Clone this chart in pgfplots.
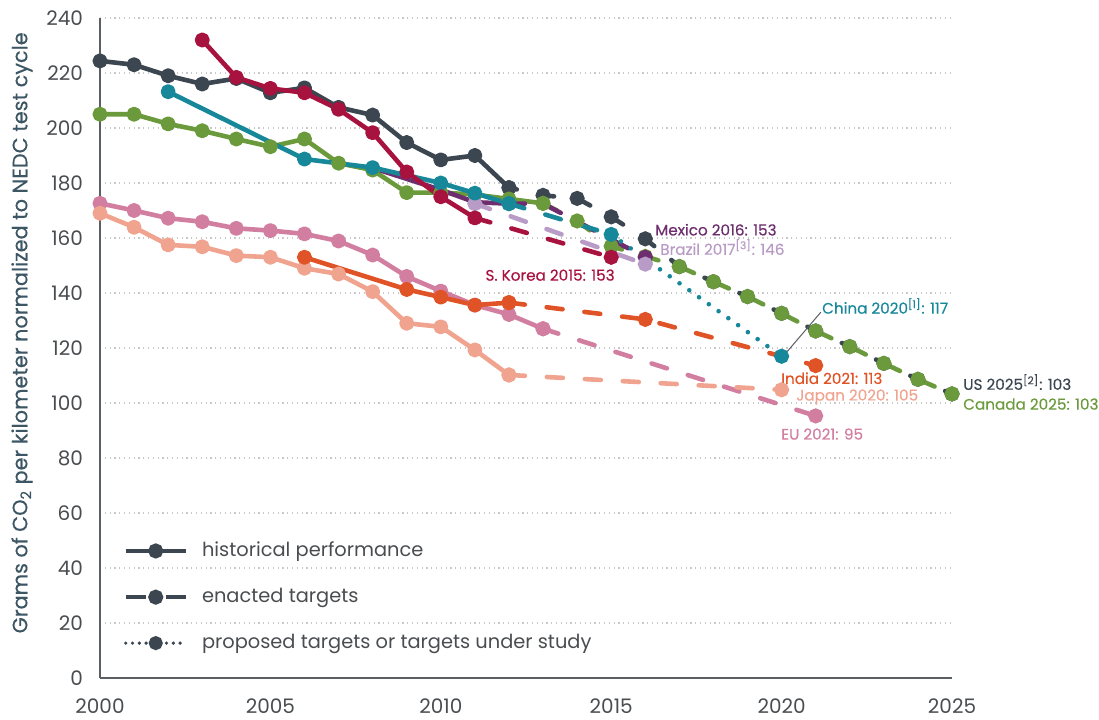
\documentclass[border=0pt]{standalone}
\usepackage{fontspec}
\setmainfont{Poppins}
\newfontfamily\labelfont{Poppins}[FakeBold=0.35]
\usepackage{pgfplots}
\pgfplotsset{compat=1.18}

\definecolor{usgray}{HTML}{3B4650}
\definecolor{canada}{HTML}{6B9A3C}
\definecolor{korea}{HTML}{A8123F}
\definecolor{china}{HTML}{17879A}
\definecolor{mexico}{HTML}{6D2D6E}
\definecolor{brazil}{HTML}{B89BC6}
\definecolor{eu}{HTML}{D27EA0}
\definecolor{japan}{HTML}{F0A38F}
\definecolor{india}{HTML}{E05327}
\definecolor{axisgray}{HTML}{5A5F64}
\definecolor{gridgray}{HTML}{C8C8C8}
\definecolor{tickgray}{HTML}{4A4D50}
\definecolor{ylabcol}{HTML}{3D5664}

\begin{document}
\begin{tikzpicture}
\begin{axis}[
    name=ax,
    scale only axis,
    width=426pt, height=330pt,
    xmin=2000, xmax=2025, ymin=0, ymax=240,
    xtick={2000,2005,...,2025},
    ytick={0,20,...,240},
    /pgf/number format/1000 sep={},
    /pgf/number format/assume math mode=true,
    major tick length=0pt,
    axis lines*=left,
    axis line style={draw=axisgray, line width=0.7pt, -},
    ymajorgrids,
    grid style={draw=gridgray, line width=0.6pt, dash pattern=on 0.6pt off 1.8pt},
    tick label style={text=tickgray, font=\fontsize{10}{11}\selectfont},
    yticklabel style={xshift=-5pt},
    xticklabel style={yshift=-7pt},
    clip=false,
    ylabel={Grams of CO\textsubscript{2} per kilometer normalized to NEDC test cycle},
    every axis y label/.style={at={(axis description cs:-0.0915,0.523)}, rotate=90, anchor=center,
        font=\labelfont\fontsize{10.4}{12}\selectfont, text=ylabcol},
    hist/.style={line width=2.3pt, mark=*, mark size=2.6pt, line join=round},
    target/.style={line width=2.3pt, mark=*, mark size=2.6pt, line cap=round,
        dash pattern=on 8pt off 11pt, mark options={solid}},
    proposed/.style={line width=2.3pt, mark=*, mark size=2.6pt, line cap=round,
        dash pattern=on 0pt off 6pt, mark options={solid}},
    legend image code/.code={\draw[mark repeat=2,mark phase=2,#1] plot coordinates {(0pt,0pt) (15pt,0pt) (30pt,0pt)};},
    legend style={draw=none, fill=none, at={(axis description cs:0.02,0.027)}, anchor=south west,
        font=\fontsize{9.7}{11}\selectfont, text=tickgray, row sep=10.3pt,
        /tikz/every odd column/.append style={column sep=5pt}},
    legend cell align=left,
]
\addlegendimage{usgray, line width=2.3pt, mark=*, mark size=2.6pt}
\addlegendentry{historical performance}
\addlegendimage{usgray, line width=2.3pt, mark=*, mark size=2.6pt, dash pattern=on 10pt off 10pt, mark options={solid}}
\addlegendentry{enacted targets}
\addlegendimage{usgray, line width=1.8pt, mark=*, mark size=2.6pt, line cap=round, dash pattern=on 0pt off 3.4pt, mark options={solid}}
\addlegendentry{proposed targets or targets under study}

% US
\addplot[usgray, target, dash phase=4pt] coordinates {(2012,178.3) (2013,175.5) (2014,174.4) (2015,167.7) (2016,159.7) (2017,149.6) (2018,144.1) (2019,138.7) (2020,132.6) (2021,126.2) (2022,120.5) (2023,114.4) (2024,108.6) (2025,103.3)};
\addplot[usgray, hist] coordinates {(2000,224.4) (2001,223) (2002,219) (2003,216) (2004,218) (2005,212.8) (2006,214.6) (2007,207.5) (2008,204.7) (2009,194.7) (2010,188.4) (2011,190) (2012,178.3)};
% Canada
\addplot[canada, target] coordinates {(2013,172.6) (2014,166.2) (2015,157) (2016,153.3) (2017,149.6) (2018,144.1) (2019,138.7) (2020,132.6) (2021,126.2) (2022,120.5) (2023,114.4) (2024,108.6) (2025,103.3)};
\addplot[canada, hist] coordinates {(2000,205) (2001,205) (2002,201.5) (2003,199) (2004,196) (2005,193.2) (2006,196) (2007,187.2) (2008,184.7) (2009,176.5) (2010,176.5) (2011,175.8) (2012,174.2) (2013,172.6)};
% Mexico
\addplot[mexico, target, mark indices={3}] coordinates {(2012,172.5) (2013,172.5) (2016,153)};
\addplot[mexico, hist, mark=none] coordinates {(2008,185.5) (2009,181.5) (2010,177.5) (2011,173) (2012,172.5)};
% Brazil
\addplot[brazil, target] coordinates {(2011,172.5) (2016,150.5)};
% China
\addplot[china, proposed, mark indices={2}] coordinates {(2015,161.3) (2020,117)};
\addplot[china, target] coordinates {(2012,172.5) (2015,161.3)};
\addplot[china, hist] coordinates {(2002,213.2) (2006,188.7) (2008,185.6) (2010,180) (2011,176.3) (2012,172.5)};
% S. Korea
\addplot[korea, target, mark indices={2}] coordinates {(2011,167.3) (2015,153)};
\addplot[korea, hist] coordinates {(2003,232) (2004,218.4) (2005,214.4) (2006,212.8) (2007,206.8) (2008,198.3) (2009,184) (2010,175) (2011,167.3)};
% EU
\addplot[eu, target] coordinates {(2013,127) (2021,95.3)};
\addplot[eu, hist] coordinates {(2000,172.6) (2001,170) (2002,167.2) (2003,165.9) (2004,163.5) (2005,162.7) (2006,161.5) (2007,158.9) (2008,153.8) (2009,146) (2010,140.7) (2011,135.6) (2012,132.2) (2013,127)};
% Japan
\addplot[japan, target] coordinates {(2012,110.2) (2020,104.8)};
\addplot[japan, hist] coordinates {(2000,169) (2001,163.9) (2002,157.5) (2003,156.8) (2004,153.6) (2005,153) (2006,149) (2007,146.9) (2008,140.5) (2009,129) (2010,127.7) (2011,119.3) (2012,110.2)};
% India
\addplot[india, target] coordinates {(2012,136.5) (2016,130.4) (2021,113.6)};
\addplot[india, hist] coordinates {(2006,153) (2009,141.3) (2010,138.5) (2011,135.6) (2012,136.5)};

% labels
\begin{scope}[every node/.style={anchor=west, inner sep=0pt, font=\labelfont\fontsize{7.6}{8.5}\selectfont}]
\node[text=mexico] at (axis cs:2016.28,163) {Mexico 2016: 153};
\node[text=brazil] at (axis cs:2016.43,156.7) {Brazil 2017\textsuperscript{[3]}: 146};
\node[text=korea] at (axis cs:2011.3,146.5) {S. Korea 2015: 153};
\node[text=china] at (axis cs:2021.18,135.3) {China 2020\textsuperscript{[1]}: 117};
\node[text=india] at (axis cs:2019.98,109) {India 2021: 113};
\node[text=japan] at (axis cs:2020.42,102.2) {Japan 2020: 105};
\node[text=eu] at (axis cs:2019.98,88.7) {EU 2021: 95};
\node[text=usgray] at (axis cs:2025.32,107.6) {US 2025\textsuperscript{[2]}: 103};
\node[text=canada] at (axis cs:2025.32,99.6) {Canada 2025: 103};
\end{scope}
\draw[axisgray, line width=0.5pt] (axis cs:2020.15,118.5) -- (axis cs:2021.15,133);
\end{axis}
\pgfresetboundingbox
\path ([shift={(-50pt,-20.5pt)}]ax.south west) rectangle ([shift={(73.5pt,9pt)}]ax.north east);
\end{tikzpicture}
\end{document}
